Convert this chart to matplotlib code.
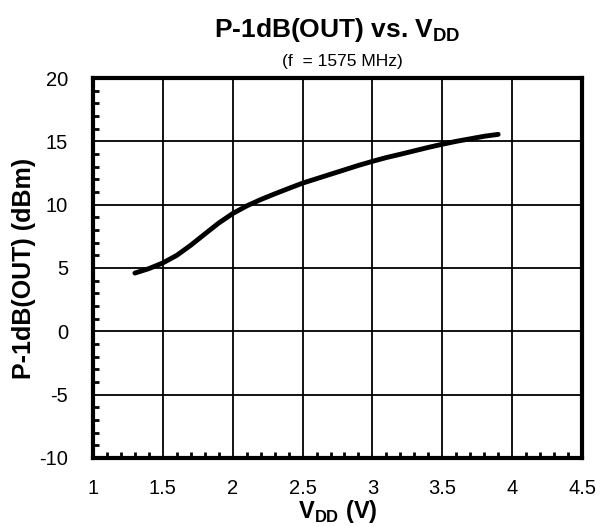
import matplotlib
matplotlib.use("Agg")
import matplotlib.pyplot as plt
from matplotlib.ticker import MultipleLocator

plt.rcParams['font.family'] = ['Liberation Sans', 'DejaVu Sans']
plt.rcParams['mathtext.fontset'] = 'custom'
plt.rcParams['mathtext.rm'] = 'Liberation Sans'
plt.rcParams['mathtext.bf'] = 'Liberation Sans:bold'

# Supply voltage (V) and output 1 dB compression point (dBm)
vdd = [1.3, 1.4, 1.5, 1.6, 1.7, 1.8, 1.9, 2.0, 2.1, 2.2, 2.3, 2.4, 2.5, 2.6,
       2.7, 2.8, 2.9, 3.0, 3.1, 3.2, 3.3, 3.4, 3.5, 3.6, 3.7, 3.8, 3.9]
p1db_out = [4.6, 4.95, 5.4, 6.0, 6.8, 7.68, 8.55, 9.3, 9.9, 10.4, 10.85, 11.28,
            11.7, 12.05, 12.4, 12.75, 13.1, 13.42, 13.72, 13.98, 14.25, 14.52,
            14.77, 15.0, 15.2, 15.4, 15.55]

xticks = [1, 1.5, 2, 2.5, 3, 3.5, 4, 4.5]
yticks = [-10, -5, 0, 5, 10, 15, 20]

fig = plt.figure(figsize=(6.09, 5.26), dpi=100)
ax = fig.add_axes([0.1527, 0.1293, 0.8030, 0.7224])

ax.plot(vdd, p1db_out, color='black', linewidth=3.5,
        solid_capstyle='round', solid_joinstyle='round')

ax.set_xlim(1, 4.5)
ax.set_ylim(-10, 20)
ax.set_xticks(xticks)
ax.set_xticklabels([f'{t:g}' for t in xticks])
ax.set_yticks(yticks)
ax.set_yticklabels([str(t) for t in yticks])
ax.xaxis.set_minor_locator(MultipleLocator(0.1))
ax.yaxis.set_minor_locator(MultipleLocator(1))
ax.tick_params(which='major', length=0, labelsize=14.5)
ax.tick_params(axis='x', which='major', pad=15)
ax.tick_params(axis='y', which='major', pad=18)
ax.tick_params(which='minor', direction='in', length=4, width=2)

ax.grid(True, which='major', color='black', linewidth=1.3)
for s in ax.spines.values():
    s.set_linewidth(3)

ax.set_xlabel(r'V$_{\mathbf{DD}}$ (V)', fontsize=17, fontweight='bold', labelpad=0)
ax.set_ylabel('P-1dB(OUT) (dBm)', fontsize=18, fontweight='bold', labelpad=2)

fig.text(0.554, 0.943, r'P-1dB(OUT) vs. V$_{\mathbf{DD}}$', ha='center', va='center',
         fontsize=19, fontweight='bold')
fig.text(0.563, 0.884, '(f  = 1575 MHz)', ha='center', va='center', fontsize=12.5)

fig.savefig('out.png', dpi=100)
